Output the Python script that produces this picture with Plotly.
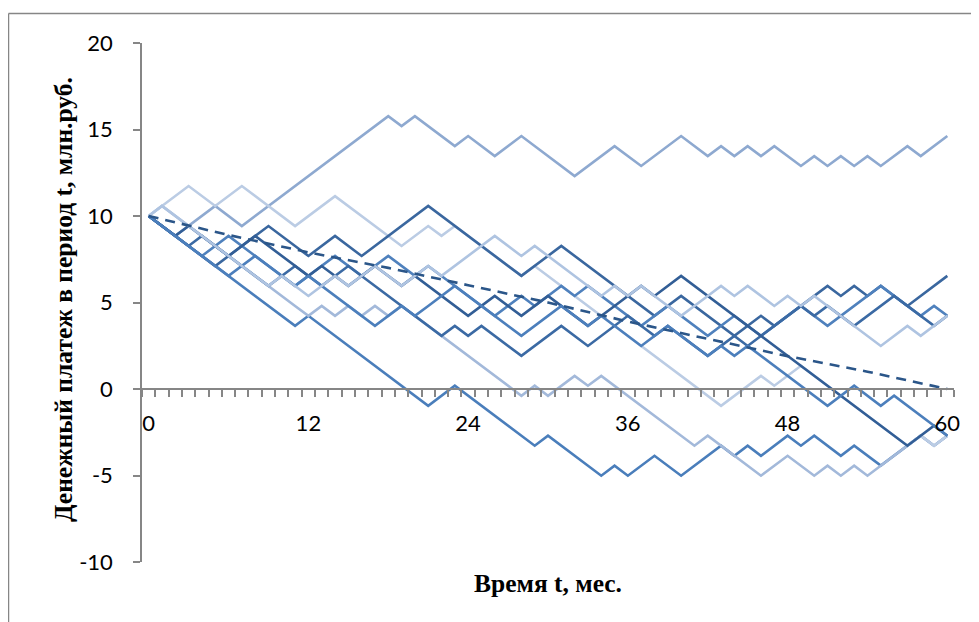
import plotly.graph_objects as go

# ---- data (turning points of each simulated payment path) ----
x1 = [0, 2, 5, 7, 18, 19, 20, 23, 24, 26, 28, 32, 35, 37, 40, 42, 43, 44, 45, 46, 47, 49, 50, 51, 52, 53, 54, 55, 57, 58, 60]
y1 = [10.00, 8.85, 10.58, 9.42, 15.77, 15.20, 15.77, 14.04, 14.62, 13.46, 14.62, 12.31, 14.04, 12.89, 14.62, 13.46, 14.04, 13.46, 14.04, 13.46, 14.04, 12.89, 13.46, 12.89, 13.46, 12.89, 13.46, 12.89, 14.04, 13.46, 14.62]

x2 = [0, 11, 12, 21, 23, 29, 30, 34, 35, 36, 38, 40, 43, 44, 45, 46, 48, 49, 50, 52, 53, 55, 58, 59, 60]
y2 = [10.00, 3.65, 4.23, -0.97, 0.19, -3.28, -2.70, -5.01, -4.43, -5.01, -3.86, -5.01, -3.28, -3.86, -3.28, -3.86, -2.70, -3.28, -2.70, -3.86, -3.28, -4.43, -2.70, -3.28, -2.70]

x3 = [0, 1, 11, 12, 13, 14, 15, 16, 17, 18, 19, 22, 28, 29, 30, 32, 33, 34, 41, 42, 46, 48, 50, 51, 52, 53, 54, 58, 59, 60]
y3 = [10.00, 10.58, 4.80, 4.23, 4.80, 4.23, 4.80, 4.23, 4.80, 4.23, 4.80, 3.07, -0.39, 0.19, -0.39, 0.76, 0.19, 0.76, -3.28, -2.70, -5.01, -3.86, -5.01, -4.43, -5.01, -4.43, -5.01, -2.70, -3.28, -2.70]

x4 = [0, 3, 5, 7, 11, 14, 19, 21, 22, 23, 28, 29, 43, 46, 47, 49, 57, 58, 59, 60]
y4 = [10.00, 11.73, 10.58, 11.73, 9.42, 11.15, 8.27, 9.42, 8.85, 9.42, 6.54, 7.11, -0.97, 0.76, 0.19, 1.34, -3.28, -2.70, -3.28, -2.70]

x5 = [0, 5, 9, 12, 14, 16, 21, 28, 31, 38, 40, 44, 46, 47, 51, 52, 53, 54, 55, 57, 60]
y5 = [10.00, 7.11, 9.42, 7.69, 8.85, 7.69, 10.58, 6.54, 8.27, 4.23, 5.38, 3.07, 4.23, 3.65, 5.96, 5.38, 5.96, 5.38, 5.96, 4.80, 6.54]

x6 = [0, 4, 6, 11, 14, 16, 18, 20, 21, 26, 28, 29, 31, 32, 33, 37, 39, 42, 44, 46, 49, 51, 55, 58, 59, 60]
y6 = [10.00, 7.69, 8.85, 5.96, 7.69, 6.54, 7.69, 6.54, 7.11, 4.23, 5.38, 4.80, 5.96, 5.38, 5.96, 3.65, 4.80, 3.07, 4.23, 3.07, 4.80, 3.65, 5.96, 4.23, 4.80, 4.23]

x7 = [0, 3, 4, 9, 11, 13, 15, 22, 23, 24, 25, 28, 31, 33, 36, 38, 39, 42, 44, 45, 49, 50, 51, 53, 56, 59, 60]
y7 = [10.00, 8.27, 8.85, 5.96, 7.11, 5.96, 7.11, 3.07, 3.65, 3.07, 3.65, 1.92, 3.65, 2.49, 4.23, 3.07, 3.65, 1.92, 3.07, 2.49, 4.80, 4.23, 4.80, 3.65, 5.38, 3.65, 4.23]

x8 = [0, 2, 3, 6, 8, 12, 13, 15, 17, 19, 20, 24, 26, 28, 30, 33, 35, 37, 38, 40, 57, 59, 60]
y8 = [10.00, 8.85, 9.42, 7.69, 8.85, 6.54, 7.11, 5.96, 7.11, 5.96, 6.54, 4.23, 5.38, 4.23, 5.38, 3.65, 4.80, 5.96, 5.38, 6.54, -3.28, -2.12, -2.70]

x9 = [0, 6, 8, 11, 12, 17, 19, 20, 21, 23, 28, 31, 33, 34, 37, 39, 41, 42, 43, 44, 45, 48, 51, 53, 55, 56, 59, 60]
y9 = [10.00, 6.54, 7.69, 5.96, 6.54, 3.65, 4.80, 4.23, 4.80, 5.96, 3.07, 4.80, 3.65, 4.23, 2.49, 3.65, 2.49, 1.92, 2.49, 1.92, 2.49, 0.76, -0.97, 0.19, -0.97, -0.39, -2.12, -2.70]

x10 = [0, 1, 9, 10, 12, 14, 15, 17, 19, 21, 22, 26, 28, 29, 34, 35, 36, 37, 38, 40, 42, 43, 44, 45, 47, 48, 49, 50, 51, 55, 57, 58, 60]
y10 = [10.00, 10.58, 5.96, 6.54, 5.38, 6.54, 5.96, 7.11, 5.96, 7.11, 6.54, 8.85, 7.69, 8.27, 5.38, 5.96, 5.38, 5.96, 5.38, 4.23, 5.38, 5.96, 5.38, 5.96, 4.80, 5.38, 4.80, 5.38, 4.80, 2.49, 3.65, 3.07, 4.23]

x_mean = [0, 6, 12, 18, 24, 30, 36, 42, 48, 54, 60]
y_mean = [10.0, 8.9, 7.9, 7.0, 6.0, 5.0, 3.9, 2.9, 1.9, 1.0, 0.0]

x_ticks = [0, 12, 24, 36, 48, 60]
x_tick_labels = ["0", "12", "24", "36", "48", "60"]
y_ticks = [-10, -5, 0, 5, 10, 15, 20]
y_tick_labels = ["-10", "-5", "0", "5", "10", "15", "20"]

y_title = "Денежный платеж в период t, млн.руб."
x_title = "Время t, мес."

paths = [
    (x1, y1, "#8EA9D0"),
    (x2, y2, "#4A7EBB"),
    (x3, y3, "#A3B9DA"),
    (x4, y4, "#BBCCE4"),
    (x5, y5, "#3A679F"),
    (x6, y6, "#4F81BD"),
    (x7, y7, "#3B6AA4"),
    (x8, y8, "#325E96"),
    (x9, y9, "#4C7FBC"),
    (x10, y10, "#AFC4E1"),
]

fig = go.Figure()
for xs, ys, col in paths:
    fig.add_trace(go.Scatter(x=xs, y=ys, mode="lines",
                             line=dict(color=col, width=2.6),
                             hoverinfo="skip", showlegend=False))
fig.add_trace(go.Scatter(x=x_mean, y=y_mean, mode="lines",
                         line=dict(color="#2B5689", width=2.6, dash="10px,7px"),
                         hoverinfo="skip", showlegend=False))

axis_col = "#868686"
W, H = 979, 622
OFF = 8  # page body margin of the html page
ml, mr, mt, mb = 134, 33, 35, 68
pw = W - ml - mr
ph = H - mt - mb

def px_x(p):
    return (p - OFF - ml) / pw

def px_y(p):
    return (H - mb - (p - OFF)) / ph

fig.update_layout(
    width=W, height=H,
    margin=dict(l=ml, r=mr, t=mt, b=mb, autoexpand=False),
    paper_bgcolor="white", plot_bgcolor="white",
    showlegend=False,
    xaxis=dict(range=[-0.5, 60.5], tickmode="array", tickvals=x_ticks, ticktext=x_tick_labels,
               ticks="outside", ticklen=0, tickcolor=axis_col,
               showline=True, linecolor=axis_col, linewidth=1.5,
               showgrid=False, zeroline=False, automargin=False,
               anchor="free", position=1/3,
               tickfont=dict(family="Lato", size=22, color="black"),
               ticklabelstandoff=15,
               minor=dict(tickmode="linear", tick0=-0.5, dtick=1, ticks="outside",
                          ticklen=7, tickcolor=axis_col, tickwidth=1.5, showgrid=False)),
    yaxis=dict(range=[-10, 20], tickmode="array", tickvals=y_ticks, ticktext=y_tick_labels,
               ticks="outside", ticklen=7, tickcolor=axis_col, tickwidth=1.5,
               showline=True, linecolor=axis_col, linewidth=1.5,
               showgrid=False, zeroline=False, automargin=False,
               tickfont=dict(family="Lato", size=22, color="black"),
               ticklabelstandoff=16),
    shapes=[
        dict(type="line", xref="paper", yref="paper", x0=px_x(8.5), x1=px_x(8.5),
             y0=-0.3, y1=px_y(13.5), line=dict(color=axis_col, width=1.5)),
        dict(type="line", xref="paper", yref="paper", x0=px_x(8.5), x1=1.2,
             y0=px_y(13.5), y1=px_y(13.5), line=dict(color=axis_col, width=1.5)),
    ],
    annotations=[
        dict(text="<b>" + y_title + "</b>", xref="paper", yref="paper",
             x=px_x(63), y=px_y(300), textangle=-90, showarrow=False,
             xanchor="center", yanchor="middle",
             font=dict(family="Liberation Serif", size=25.5, color="black")),
        dict(text="<b>" + x_title + "</b>", xref="paper", yref="paper",
             x=px_x(548), y=px_y(583), showarrow=False,
             xanchor="center", yanchor="middle",
             font=dict(family="Liberation Serif", size=25.5, color="black")),
    ],
)

fig.write_html("out.html")
